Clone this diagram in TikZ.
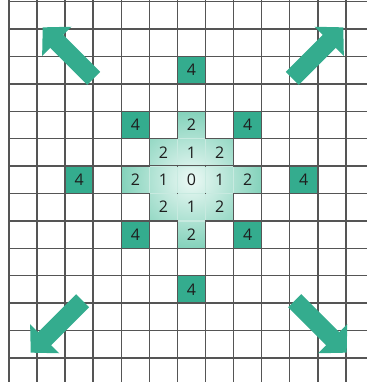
\documentclass[tikz,border=0pt]{standalone}
\usepackage{fontspec}
\setmainfont{Open Sans}
\usepackage{tikz}
\usetikzlibrary{arrows.meta}
\definecolor{deep}{RGB}{52,172,142}
\definecolor{pale}{RGB}{132,210,187}
\definecolor{glow}{RGB}{236,249,245}
\definecolor{gridc}{RGB}{85,85,85}
\definecolor{seam}{RGB}{200,234,224}
\definecolor{ink}{RGB}{30,30,30}

\begin{document}
\begin{tikzpicture}[x=0.5pt, y=-0.5pt,
          every node/.style={font=\fontsize{8}{9}\selectfont, text=ink, inner sep=0pt,
                    minimum width=14.04pt, minimum height=13.7pt},
          far/.style={fill=deep},
          near/.style={},
          gl/.style={draw=gridc, line width=0.72pt},
          sm/.style={draw=seam, line width=0.6pt, shorten <=0.36pt, shorten >=0.36pt},
          bigarrow/.style={draw=deep, line width=9.2pt,
                    -{Triangle[length=9.9pt, width=20pt]}}]
        \useasboundingbox (0,0) rectangle (367,382);
        \begin{scope}[shift={(191.5,179.8)}, x=14.04pt, y=-13.7pt]
          \shade[inner color=glow, outer color=pale]
            (-0.5,-2.5) -- (0.5,-2.5) -- (0.5,-1.5) -- (1.5,-1.5) -- (1.5,-0.5) -- (2.5,-0.5)
            -- (2.5,0.5) -- (1.5,0.5) -- (1.5,1.5) -- (0.5,1.5) -- (0.5,2.5) -- (-0.5,2.5)
            -- (-0.5,1.5) -- (-1.5,1.5) -- (-1.5,0.5) -- (-2.5,0.5) -- (-2.5,-0.5) -- (-1.5,-0.5)
            -- (-1.5,-1.5) -- (-0.5,-1.5) -- cycle;
          \foreach \x/\y [count=\k] in {0/-4,-2/-2,2/-2,-4/0,4/0,-2/2,2/2,0/4}
            \node[far] (far\k) at (\x,\y) {4};
          \foreach \x/\y/\v [count=\k] in {0/-2/2,-1/-1/2,0/-1/1,1/-1/2,-2/0/2,-1/0/1,0/0/0,
                1/0/1,2/0/2,-1/1/2,0/1/1,1/1/2,0/2/2}
            \node[near] (near\k) at (\x,\y) {\v};
          \foreach \i in {-6.5,-5.5,...,5.6}
            \draw[gl] (\i,-6.562) -- (\i,7.38);
          \foreach \j in {-6.5,-5.5,...,6.6}
            \draw[gl] (-6.5,\j) -- (6.25,\j);
          \foreach \x/\y in {-1/-1,0/-1,-2/0,-1/0,0/0,1/0,-1/1,0/1}
            \draw[sm] (\x+0.5,\y-0.5) -- (\x+0.5,\y+0.5);
          \foreach \x/\y in {-1/-1,-1/0,0/-2,0/-1,0/0,0/1,1/-1,1/0}
            \draw[sm] (\x-0.5,\y+0.5) -- (\x+0.5,\y+0.5);
        \end{scope}
        \draw[bigarrow] (93.7,78.3) -- (42.7,27.3);
        \draw[bigarrow] (292.3,78.3) -- (343.3,27.3);
        \draw[bigarrow] (82.7,300.7) -- (30.7,352.7);
        \draw[bigarrow] (294.7,300.7) -- (346.7,352.7);
      \end{tikzpicture}
\end{document}
